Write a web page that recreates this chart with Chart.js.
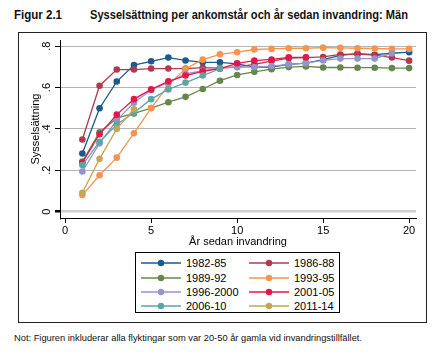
<!DOCTYPE html>
<html><head><meta charset="utf-8">
<script src="https://cdn.jsdelivr.net/npm/chart.js@4"></script>
<style>
html,body{margin:0;padding:0;background:#fff;}
body{width:443px;height:354px;position:relative;overflow:hidden;font-family:"Liberation Sans",Arial,sans-serif;}
.t{position:absolute;font-family:"Liberation Sans",Arial,sans-serif;font-weight:bold;font-size:12px;color:#111;top:8px;white-space:nowrap;transform-origin:0 50%;}
#frame{position:absolute;left:18px;top:32px;width:409px;height:291px;border:1px solid #222;box-sizing:border-box;}
#cv{position:absolute;left:19px;top:33px;}
#legend{position:absolute;left:135px;top:252px;width:205px;height:61px;border:1px solid #000;box-sizing:border-box;}
.li{position:absolute;font-size:11px;color:#000;white-space:nowrap;height:12px;line-height:12px;}
.li svg{position:absolute;left:0;top:0;}
.li span{position:absolute;left:45px;top:0;}
#note{position:absolute;left:14px;top:332px;font-family:"Liberation Sans",Arial,sans-serif;font-size:9.5px;color:#111;white-space:nowrap;transform-origin:0 50%;}
</style></head>
<body>
<div class="t" id="t1" style="left:14px" data-w="48">Figur 2.1</div>
<div class="t" id="t2" style="left:90px" data-w="318">Sysselsättning per ankomstår och år sedan invandring: Män</div>
<div id="frame"></div>
<canvas id="cv" width="407" height="216" style="width:407px;height:216px"></canvas>
<div id="legend"></div>
<div id="note" data-w="348">Not: Figuren inkluderar alla flyktingar som var 20-50 år gamla vid invandringstillfället.</div>
<script>
const years = [1,2,3,4,5,6,7,8,9,10,11,12,13,14,15,16,17,18,19,20];
const seriesNames = ["1982-85","1986-88","1989-92","1993-95","1996-2000","2001-05","2006-10","2011-14"];
const s1982_85 = [0.281,0.500,0.629,0.709,0.727,0.745,0.731,0.722,0.722,0.715,0.699,0.699,0.712,0.718,0.735,0.756,0.764,0.759,0.766,0.771];
const s1986_88 = [0.349,0.609,0.687,0.687,0.692,0.692,0.692,0.696,0.694,0.700,0.712,0.728,0.742,0.745,0.748,0.760,0.762,0.757,0.745,0.730];
const s1989_92 = [0.242,0.384,0.452,0.475,0.501,0.529,0.555,0.593,0.633,0.661,0.676,0.689,0.699,0.702,0.697,0.697,0.696,0.696,0.694,0.694];
const s1993_95 = [0.080,0.176,0.261,0.379,0.501,0.612,0.691,0.735,0.761,0.771,0.784,0.787,0.790,0.790,0.793,0.792,0.790,0.789,0.787,0.787];
const s1996_2000 = [0.194,0.330,0.441,0.527,0.588,0.625,0.666,0.682,0.694,0.700,0.699,0.704,0.712,0.718,0.731,0.740,0.740,0.740,0.765];
const s2001_05 = [0.237,0.374,0.469,0.544,0.591,0.630,0.658,0.678,0.691,0.717,0.730,0.736,0.746,0.746];
const s2006_10 = [0.225,0.338,0.421,0.478,0.544,0.591,0.624,0.658,0.691];
const s2011_14 = [0.091,0.255,0.400,0.495];
const xTicks = [0,5,10,15,20];
const yTicks = [0,0.2,0.4,0.6,0.8];
const yTickLabels = ["0",".2",".4",".6",".8"];

const allSeries = [s1982_85,s1986_88,s1989_92,s1993_95,s1996_2000,s2001_05,s2006_10,s2011_14];
const colors = ["#1b5a8a","#b23a50","#63894a","#f6934f","#9593cc","#e5174a","#5ba6a4","#c3a757"];

// condense header/note text to the reference widths
['t1','t2','note'].forEach(id=>{
  const el = document.getElementById(id);
  const w = el.getBoundingClientRect().width;
  const target = parseFloat(el.dataset.w);
  el.style.transform = 'scaleX(' + (target / w) + ')';
});

const datasets = allSeries.map((s,i)=>({
  label: seriesNames[i],
  data: s.map((v,j)=>({x:years[j], y:v})),
  borderColor: colors[i],
  backgroundColor: colors[i],
  borderWidth: 1.3,
  pointRadius: 3.3,
  pointBorderWidth: 0,
  pointHoverRadius: 3.3,
  order: allSeries.length - i,
  tension: 0
}));

// rotated y tick labels (read bottom-to-top), positioned by the y scale
const yLabelPlugin = {
  id: 'yLabels',
  afterDraw(chart) {
    const ctx = chart.ctx, ys = chart.scales.y;
    ctx.save();
    ctx.fillStyle = '#000';
    ctx.font = '11px "Liberation Sans", Arial, sans-serif';
    ctx.textAlign = 'center';
    ctx.textBaseline = 'middle';
    yTicks.forEach((v,k)=>{
      const py = ys.getPixelForValue(v);
      ctx.save();
      ctx.translate(ys.right - 13, py);
      ctx.rotate(-Math.PI/2);
      ctx.fillText(yTickLabels[k], 0, 0);
      ctx.restore();
    });
    ctx.restore();
  }
};

new Chart(document.getElementById('cv'), {
  type: 'line',
  data: { datasets },
  plugins: [yLabelPlugin],
  options: {
    responsive: false,
    animation: false,
    events: [],
    layout: { padding: { top: 7, right: 10, left: 0, bottom: 0 } },
    plugins: { legend: { display: false }, tooltip: { enabled: false } },
    scales: {
      x: {
        type: 'linear', min: -0.3, max: 20.4,
        afterBuildTicks: s => { s.ticks = xTicks.map(v=>({value:v})); },
        afterFit: s => { s.height = 31; },
        border: { color: '#000', width: 1 },
        grid: { drawOnChartArea: false, drawTicks: true, tickLength: 5, tickColor: '#000' },
        ticks: { color: '#000', font: { family: 'Liberation Sans', size: 11 }, padding: 1, maxRotation: 0 },
        title: { display: true, text: 'År sedan invandring', color: '#000', font: { family: 'Liberation Sans', size: 11 }, padding: { top: -2, bottom: 0 } }
      },
      y: {
        type: 'linear', min: -0.031, max: 0.83,
        afterBuildTicks: s => { s.ticks = yTicks.map(v=>({value:v})); },
        afterFit: s => { s.width = 41; },
        border: { color: '#000', width: 1 },
        grid: {
          drawTicks: true, tickLength: 5,
          tickColor: '#000',
          color: c => c.tick && c.tick.value === 0 ? '#cfcfcf' : '#b4b4b4',
          lineWidth: c => c.tick && c.tick.value === 0 ? 2.5 : 1
        },
        ticks: { display: false },
        title: { display: true, text: 'Sysselsättning', color: '#000', font: { family: 'Liberation Sans', size: 11 }, padding: { top: 10, bottom: 0 } }
      }
    }
  }
});

// HTML legend (two columns)
const lg = document.getElementById('legend');
const colX = [5, 113];
const rowY = [4, 18.5, 33, 47];
seriesNames.forEach((name,i)=>{
  const d = document.createElement('div');
  d.className = 'li';
  d.style.left = colX[i%2] + 'px';
  d.style.top = rowY[Math.floor(i/2)] + 'px';
  d.innerHTML = '<svg width="42" height="12"><line x1="0" y1="6" x2="40" y2="6" stroke="'+colors[i]+'" stroke-width="1.3"/><circle cx="20" cy="6" r="3.2" fill="'+colors[i]+'"/></svg><span>'+name+'</span>';
  lg.appendChild(d);
});
</script>
</body></html>
